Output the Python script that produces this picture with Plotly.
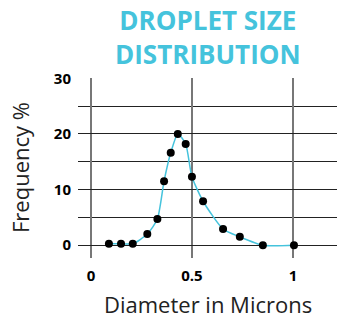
import plotly.graph_objects as go

diameter = [0.089, 0.149, 0.207, 0.279, 0.329, 0.362, 0.395, 0.430, 0.469, 0.500, 0.555, 0.654, 0.737, 0.851, 1.005]
frequency = [0.25, 0.25, 0.25, 2.0, 4.7, 11.5, 16.6, 20.0, 18.2, 12.3, 7.9, 2.9, 1.5, 0.0, 0.0]
x_ticks = [0, 0.5, 1]
x_tick_text = ["0", "0.5", "1"]
y_ticks = [0, 10, 20, 30]

title_text = "DROPLET SIZE<br>DISTRIBUTION"
x_title = "Diameter in Microns"
y_title = "Frequency %"
cyan = "#45C3DC"
FONT = "Open Sans"

fig = go.Figure()
fig.add_trace(go.Scatter(
    x=diameter, y=frequency, mode="lines+markers",
    line=dict(color=cyan, width=1.5, shape="spline", smoothing=0.6),
    marker=dict(color="black", size=8),
    showlegend=False,
))

fig.update_layout(
    width=337, height=316,
    margin=dict(l=78, r=0, t=78, b=58, autoexpand=False),
    paper_bgcolor="white", plot_bgcolor="white",
    font=dict(family=FONT, color="black"),
    annotations=[
        dict(text=title_text, xref="paper", yref="paper", x=0.5, y=1.0,
             yshift=4, xanchor="center", yanchor="bottom", showarrow=False,
             font=dict(family=FONT, size=26, color=cyan, weight="bold")),
        dict(text=x_title, xref="paper", yref="paper", x=0.5, y=0,
             yshift=-33, xanchor="center", yanchor="top", showarrow=False,
             height=22, valign="middle",
             font=dict(family=FONT, size=22, color="#222")),
        dict(text=y_title, xref="paper", yref="paper", x=0, y=0.5,
             xshift=-58, xanchor="center", yanchor="middle", showarrow=False,
             textangle=-90, font=dict(family=FONT, size=22, color="#222")),
    ],
)
fig.update_xaxes(
    range=[-0.064, 1.218], tickvals=x_ticks, ticktext=x_tick_text,
    showgrid=True, gridcolor="#777777", gridwidth=2, zeroline=False,
    showline=False, ticks="", ticklabelstandoff=7, automargin=False,
    tickfont=dict(family=FONT, size=15, color="black", weight="bold"),
    layer="below traces",
)
fig.update_yaxes(
    range=[-2.3, 30.05], tickvals=y_ticks,
    showgrid=True, gridcolor="#222222", gridwidth=1, zeroline=False,
    minor=dict(dtick=5, tick0=0, showgrid=True, gridcolor="#222222", gridwidth=1),
    showline=False, ticks="", ticklabelstandoff=6, automargin=False,
    tickfont=dict(family=FONT, size=15, color="black", weight="bold"),
)

fig.write_html("out.html", config={"displayModeBar": False},
               post_script="document.body.style.margin='0';document.body.style.overflow='hidden';")
